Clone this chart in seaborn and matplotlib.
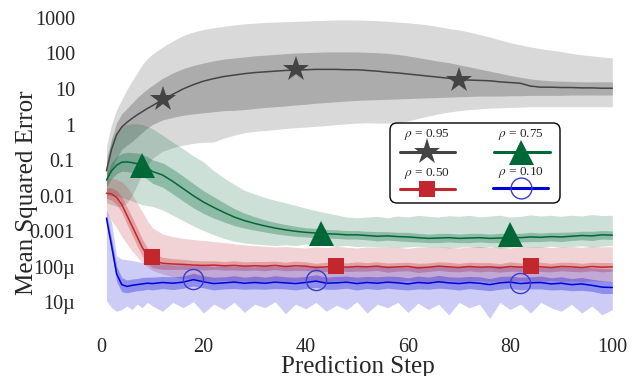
import numpy as np
import matplotlib
matplotlib.use("Agg")
import matplotlib.pyplot as plt
import seaborn as sns
from matplotlib.lines import Line2D
from matplotlib.patches import FancyBboxPatch

# ---- data (log10 of the mean squared error) ----
steps = list(range(1, 11)) + list(range(12, 101, 2))

gray_mid = [-1.30, -0.70, -0.28, -0.07, 0.06, 0.17, 0.27, 0.36, 0.45, 0.53,
            0.70, 0.85, 1.00, 1.12, 1.22, 1.29, 1.35, 1.39, 1.43, 1.46,
            1.48, 1.50, 1.52, 1.53, 1.54, 1.55, 1.55, 1.55, 1.54, 1.54,
            1.52, 1.50, 1.47, 1.45, 1.42, 1.39, 1.36, 1.33, 1.30, 1.26,
            1.25, 1.24, 1.23, 1.20, 1.18, 1.16, 1.08, 1.05, 1.05, 1.04,
            1.04, 1.03, 1.03, 1.02, 1.02]
gray_in_hi = [-1.10, -0.40, 0.05, 0.30, 0.45, 0.60, 0.75, 0.88, 1.00, 1.10,
              1.30, 1.45, 1.57, 1.66, 1.73, 1.79, 1.84, 1.87, 1.90, 1.93,
              1.95, 1.97, 1.99, 2.01, 2.02, 2.03, 2.04, 2.04, 2.04, 2.04,
              2.03, 2.02, 2.00, 1.97, 1.93, 1.88, 1.83, 1.78, 1.74, 1.68,
              1.62, 1.56, 1.50, 1.44, 1.38, 1.33, 1.28, 1.25, 1.23, 1.22,
              1.21, 1.20, 1.20, 1.20, 1.20]
gray_in_lo = [-1.60, -1.25, -0.95, -0.70, -0.58, -0.48, -0.35, -0.22, -0.10, 0.00,
              0.13, 0.20, 0.26, 0.30, 0.33, 0.36, 0.39, 0.40, 0.42, 0.45,
              0.48, 0.50, 0.52, 0.55, 0.57, 0.60, 0.62, 0.64, 0.66, 0.68,
              0.69, 0.70, 0.71, 0.72, 0.73, 0.74, 0.75, 0.76, 0.77, 0.78,
              0.79, 0.80, 0.80, 0.80, 0.81, 0.81, 0.82, 0.82, 0.82, 0.82,
              0.83, 0.83, 0.83, 0.83, 0.83]
gray_out_hi = [-0.60, 0.00, 0.42, 0.70, 0.98, 1.22, 1.45, 1.68, 1.85, 1.98,
               2.18, 2.35, 2.50, 2.60, 2.67, 2.72, 2.76, 2.80, 2.83, 2.85,
               2.87, 2.88, 2.89, 2.90, 2.91, 2.92, 2.93, 2.94, 2.94, 2.94,
               2.93, 2.92, 2.90, 2.88, 2.86, 2.83, 2.80, 2.75, 2.70, 2.66,
               2.60, 2.53, 2.46, 2.38, 2.30, 2.24, 2.18, 2.13, 2.09, 2.05,
               2.00, 1.96, 1.93, 1.90, 1.87]
gray_out_lo = [-2.20, -2.25, -2.30, -2.30, -2.20, -2.00, -1.70, -1.40, -1.15, -0.95,
               -0.75, -0.65, -0.58, -0.53, -0.50, -0.49, -0.38, -0.30, -0.23, -0.19,
               -0.17, -0.14, -0.11, -0.09, -0.07, -0.05, -0.03, 0.00, 0.02, 0.04,
               0.05, 0.04, 0.04, 0.06, 0.10, 0.17, 0.24, 0.30, 0.35, 0.39,
               0.42, 0.44, 0.46, 0.47, 0.48, 0.49, 0.50, 0.50, 0.50, 0.50,
               0.50, 0.50, 0.50, 0.50, 0.50]

green_mid = [-1.56, -1.30, -1.14, -1.06, -1.05, -1.07, -1.10, -1.14, -1.22, -1.32,
             -1.42, -1.60, -1.80, -2.00, -2.18, -2.33, -2.47, -2.60, -2.70, -2.78,
             -2.85, -2.91, -2.96, -3.00, -3.03, -3.05, -3.07, -3.08, -3.10, -3.10,
             -3.12, -3.14, -3.13, -3.15, -3.16, -3.18, -3.20, -3.19, -3.18, -3.20,
             -3.19, -3.18, -3.20, -3.19, -3.17, -3.18, -3.16, -3.17, -3.15, -3.16,
             -3.14, -3.12, -3.13, -3.10, -3.11]
green_in_w = [0.20, 0.22, 0.24, 0.25, 0.27, 0.28, 0.30, 0.30, 0.32, 0.33,
              0.34, 0.35, 0.35, 0.34, 0.32, 0.30, 0.27, 0.24, 0.21, 0.19,
              0.17, 0.16, 0.15, 0.14, 0.13, 0.13, 0.12, 0.12, 0.12, 0.12,
              0.12, 0.13, 0.12, 0.12, 0.13, 0.12, 0.12, 0.13, 0.12, 0.12,
              0.13, 0.12, 0.12, 0.13, 0.12, 0.12, 0.13, 0.12, 0.12, 0.13,
              0.12, 0.12, 0.13, 0.12, 0.12]
green_out_hi = [-0.90, -0.45, -0.20, -0.05, 0.00, 0.02, 0.02, 0.00, -0.05, -0.12,
                -0.30, -0.50, -0.68, -0.88, -1.05, -1.30, -1.50, -1.68, -1.85, -1.95,
                -2.05, -2.13, -2.20, -2.27, -2.35, -2.42, -2.48, -2.54, -2.60, -2.62,
                -2.60, -2.58, -2.62, -2.57, -2.60, -2.55, -2.58, -2.60, -2.56, -2.58,
                -2.55, -2.60, -2.57, -2.55, -2.60, -2.58, -2.54, -2.57, -2.55, -2.58,
                -2.55, -2.57, -2.53, -2.56, -2.55]
green_out_lo = [-2.00, -2.00, -2.00, -2.05, -2.10, -2.15, -2.20, -2.25, -2.28, -2.30,
                -2.40, -2.55, -2.70, -2.85, -2.98, -3.10, -3.20, -3.28, -3.33, -3.36,
                -3.38, -3.40, -3.38, -3.40, -3.36, -3.38, -3.40, -3.42, -3.40, -3.43,
                -3.42, -3.45, -3.43, -3.46, -3.44, -3.42, -3.46, -3.44, -3.47, -3.45,
                -3.43, -3.46, -3.44, -3.47, -3.45, -3.43, -3.46, -3.44, -3.42, -3.45,
                -3.43, -3.41, -3.44, -3.42, -3.40]

red_mid = [-1.93, -1.95, -2.05, -2.25, -2.55, -2.85, -3.15, -3.45, -3.68, -3.82,
           -3.90, -3.92, -3.93, -3.95, -3.96, -3.95, -3.97, -3.96, -3.98, -3.97,
           -3.98, -3.96, -3.99, -3.97, -3.98, -4.02, -4.00, -3.98, -4.01, -3.99,
           -4.00, -3.98, -4.02, -4.00, -3.99, -4.03, -4.01, -3.98, -4.00, -4.02,
           -3.99, -4.01, -4.00, -4.03, -3.99, -4.01, -3.98, -4.00, -4.02, -3.99,
           -4.00, -4.02, -3.99, -4.01, -4.00]
red_in_w = [0.15, 0.17, 0.20, 0.22, 0.24, 0.25, 0.25, 0.24, 0.22, 0.20,
            0.17, 0.15, 0.14, 0.13, 0.13, 0.12, 0.12, 0.13, 0.12, 0.12,
            0.13, 0.12, 0.12, 0.13, 0.12, 0.12, 0.13, 0.12, 0.12, 0.13,
            0.12, 0.12, 0.13, 0.12, 0.12, 0.13, 0.12, 0.12, 0.13, 0.12,
            0.12, 0.13, 0.12, 0.12, 0.13, 0.12, 0.12, 0.13, 0.12, 0.12,
            0.13, 0.12, 0.12, 0.13, 0.12]
red_out_hi = [-1.50, -1.50, -1.55, -1.60, -1.75, -1.95, -2.20, -2.45, -2.70, -2.90,
              -3.08, -3.15, -3.20, -3.23, -3.26, -3.29, -3.32, -3.35, -3.38, -3.40,
              -3.42, -3.44, -3.43, -3.45, -3.47, -3.44, -3.46, -3.42, -3.45, -3.47,
              -3.44, -3.46, -3.43, -3.45, -3.48, -3.44, -3.46, -3.43, -3.45, -3.47,
              -3.44, -3.42, -3.46, -3.44, -3.47, -3.43, -3.45, -3.42, -3.46, -3.44,
              -3.43, -3.45, -3.42, -3.44, -3.43]
red_out_lo = [-2.50, -2.70, -2.90, -3.15, -3.35, -3.55, -3.72, -3.88, -4.00, -4.10,
              -4.20, -4.28, -4.33, -4.36, -4.38, -4.40, -4.38, -4.41, -4.39, -4.42,
              -4.40, -4.38, -4.42, -4.40, -4.41, -4.39, -4.43, -4.40, -4.38, -4.41,
              -4.40, -4.42, -4.39, -4.41, -4.38, -4.40, -4.43, -4.40, -4.39, -4.41,
              -4.40, -4.38, -4.42, -4.40, -4.41, -4.39, -4.42, -4.40, -4.38, -4.41,
              -4.40, -4.42, -4.39, -4.41, -4.40]

blue_mid = [-2.63, -3.40, -4.20, -4.50, -4.55, -4.52, -4.50, -4.48, -4.46, -4.47,
            -4.44, -4.46, -4.43, -4.36, -4.42, -4.47, -4.45, -4.43, -4.46, -4.44,
            -4.46, -4.43, -4.45, -4.47, -4.44, -4.40, -4.46, -4.45, -4.43, -4.47,
            -4.44, -4.46, -4.43, -4.45, -4.48, -4.44, -4.46, -4.42, -4.45, -4.47,
            -4.44, -4.46, -4.50, -4.45, -4.43, -4.47, -4.45, -4.44, -4.48, -4.46,
            -4.50, -4.48, -4.52, -4.57, -4.58]
blue_in_w = [0.15, 0.20, 0.22, 0.20, 0.18, 0.18, 0.17, 0.18, 0.17, 0.18,
             0.17, 0.18, 0.17, 0.18, 0.17, 0.18, 0.17, 0.18, 0.17, 0.18,
             0.17, 0.18, 0.17, 0.18, 0.17, 0.18, 0.17, 0.18, 0.17, 0.18,
             0.17, 0.18, 0.17, 0.18, 0.17, 0.18, 0.17, 0.18, 0.17, 0.18,
             0.17, 0.18, 0.17, 0.18, 0.17, 0.18, 0.17, 0.18, 0.17, 0.18,
             0.17, 0.18, 0.17, 0.18, 0.17]
blue_out_hi = [-2.40, -2.75, -3.70, -3.78, -3.80, -3.82, -3.85, -3.88, -3.90, -3.90,
               -3.92, -3.95, -3.94, -3.97, -3.95, -3.98, -3.96, -3.99, -3.97, -4.00,
               -3.97, -3.99, -3.96, -4.00, -3.98, -3.96, -4.00, -3.97, -3.99, -3.96,
               -4.00, -3.98, -3.96, -3.99, -4.01, -3.97, -3.99, -3.96, -4.00, -3.98,
               -3.97, -4.00, -3.98, -3.96, -4.00, -3.97, -3.99, -4.01, -3.98, -4.00,
               -4.02, -4.00, -4.03, -4.05, -4.06]
blue_out_lo = [-4.95, -5.15, -5.25, -5.20, -5.10, -5.20, -5.05, -5.15, -5.00, -5.10,
               -5.25, -5.00, -5.15, -4.98, -5.30, -5.05, -5.20, -5.00, -5.28, -5.05,
               -5.15, -4.98, -5.32, -5.05, -5.18, -5.00, -5.25, -5.08, -5.20, -4.98,
               -5.30, -5.05, -5.15, -5.00, -5.28, -5.02, -5.20, -5.05, -5.35, -5.00,
               -5.15, -5.05, -5.45, -5.00, -5.20, -5.05, -5.30, -5.00, -5.15, -5.25,
               -5.05, -5.30, -5.10, -5.35, -5.20]

# marker positions (step, log10 value)
star_steps, star_vals = [12, 38, 70], [0.72, 1.55, 1.26]
tri_steps, tri_vals = [8, 43, 80], [-1.14, -3.06, -3.08]
sq_steps, sq_vals = [10, 46, 84], [-3.73, -3.99, -3.99]
circ_steps, circ_vals = [18, 42, 82], [-4.35, -4.38, -4.46]

ytick_vals = [1e-5, 1e-4, 1e-3, 1e-2, 1e-1, 1, 10, 100, 1000]
ytick_labels = ["10\u00b5", "100\u00b5", "0.001", "0.01", "0.1", "1", "10", "100", "1000"]
rhos = ["0.95", "0.75", "0.50", "0.10"]

# ---- style ----
sns.set_style("white")
plt.rcParams["font.family"] = ["Liberation Serif", "DejaVu Serif"]
plt.rcParams["mathtext.fontset"] = "stix"

c_gray, c_green, c_red, c_blue = "#444444", "#006837", "#c1272d", "#0000d8"

fig = plt.figure(figsize=(6.34, 3.76), dpi=100)
ax = fig.add_axes([86 / 634, 1 - 338 / 376, 534 / 634, 338 / 376])

x = np.array(steps)
series = [
    (gray_mid, None, gray_in_hi, gray_in_lo, gray_out_hi, gray_out_lo, c_gray),
    (green_mid, green_in_w, None, None, green_out_hi, green_out_lo, c_green),
    (red_mid, red_in_w, None, None, red_out_hi, red_out_lo, c_red),
    (blue_mid, blue_in_w, None, None, blue_out_hi, blue_out_lo, c_blue),
]
for mid, w, ihi, ilo, ohi, olo, col in series:
    mid = np.array(mid)
    if w is not None:
        ihi = mid + np.array(w)
        ilo = mid - np.array(w)
    ax.fill_between(x, 10 ** np.array(olo), 10 ** np.array(ohi), color=col, alpha=0.2, lw=0)
    ax.fill_between(x, 10 ** np.array(ilo), 10 ** np.array(ihi), color=col, alpha=0.3, lw=0)
    sns.lineplot(x=x, y=10 ** mid, color=col, lw=1.1, ax=ax)

ax.plot(star_steps, 10 ** np.array(star_vals), ls="none", marker="*", ms=19, color=c_gray, mew=0, zorder=5)
ax.plot(tri_steps, 10 ** np.array(tri_vals), ls="none", marker="^", ms=18, color=c_green, mew=0, zorder=5)
ax.plot(sq_steps, 10 ** np.array(sq_vals), ls="none", marker="s", ms=12, color=c_red, mew=0, zorder=5)
ax.plot(circ_steps, 10 ** np.array(circ_vals), ls="none", marker="o", ms=14.5, mfc="none",
        mec="#3a3acc", mew=1.0, zorder=5)

ax.set_yscale("log")
ax.set_xlim(-3, 101.5)
ax.set_ylim(10 ** -6, 10 ** 3.5)
ax.set_yticks(ytick_vals)
ax.set_yticklabels(ytick_labels)
ax.set_xticks([0, 20, 40, 60, 80, 100])
ax.minorticks_off()
ax.tick_params(which="both", length=0, labelsize=14.5)
ax.tick_params(axis="y", pad=8)
ax.tick_params(axis="x", pad=0)
for s in ax.spines.values():
    s.set_visible(False)

ax.set_xlabel("Prediction Step", fontsize=18)
ax.set_ylabel("Mean Squared Error", fontsize=18)
ax.xaxis.set_label_coords(0.51, -0.052)
ax.yaxis.set_label_coords(-0.09, 0.43)

# ---- legend (label above each handle) ----
tr = fig.dpi_scale_trans
fig.add_artist(FancyBboxPatch((3.90, 1.73), 1.70, 0.80,
                              boxstyle="round,pad=0,rounding_size=0.07",
                              transform=tr, fc="white", ec="black", lw=1.0, zorder=10))
leg_items = [
    (4.00, 4.55, 2.24, 4.27, "*", 20, c_gray, c_gray, rhos[0], 2.41),
    (4.94, 5.50, 2.24, 5.21, "^", 18, c_green, c_green, rhos[1], 2.41),
    (4.00, 4.55, 1.87, 4.27, "s", 12, c_red, c_red, rhos[2], 2.03),
    (4.93, 5.48, 1.88, 5.21, "o", 15, c_blue, "none", rhos[3], 2.04),
]
for x0, x1, yl, xm, mk, ms, col, mfc, rho, yt in leg_items:
    fig.add_artist(Line2D([x0, x1], [yl, yl], color=col, lw=2.2, transform=tr, zorder=11))
    mec = "#3a3acc" if mfc == "none" else col
    fig.add_artist(Line2D([xm], [yl], marker=mk, ms=ms, mfc=mfc, mec=mec,
                          mew=1.0 if mfc == "none" else 0, ls="none", transform=tr, zorder=12))
    fig.text(xm, yt, r"$\rho$ = " + rho, transform=tr, ha="center", va="center",
             fontsize=9.5, zorder=12)

fig.savefig("out.png", dpi=100)
